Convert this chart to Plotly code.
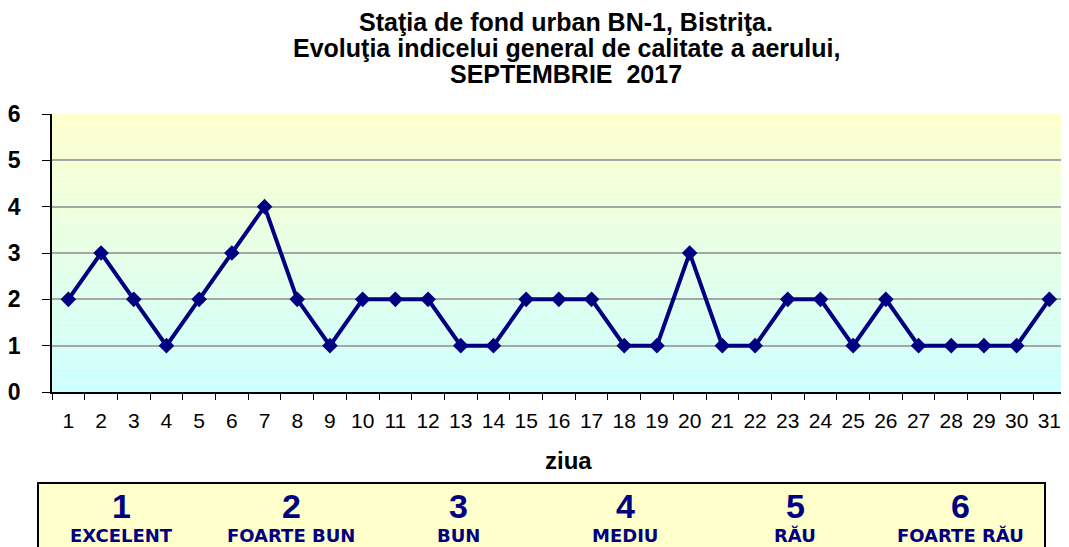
"""
Indicele general de calitate a aerului - BN-1 Bistriţa, septembrie 2017
"""

import plotly.graph_objects as go

# -------------------------
# Date
# -------------------------
zile = [str(d) for d in range(1, 32)]
indice = [2, 3, 2, 1, 2, 3, 4, 2, 1, 2, 2, 2, 1, 1, 2, 2, 2, 1, 1, 3,
          1, 1, 2, 2, 1, 2, 1, 1, 1, 1, 2]
y_ticks = [0, 1, 2, 3, 4, 5, 6]

clase_cifre = ["1", "2", "3", "4", "5", "6"]
clase_nume = ["EXCELENT", "FOARTE BUN", "BUN", "MEDIU", "RĂU", "FOARTE RĂU"]

titlu = [
    "Staţia de fond urban BN-1, Bistriţa.",
    "Evoluţia indicelui general de calitate a aerului,",
    "SEPTEMBRIE  2017",
]

# -------------------------
# Geometrie (pixeli, fata de coltul paginii; body are margine de 8px)
# -------------------------
OFF = 8
VIS = 1061                                # latimea vizibila a paginii
W, H = VIS - OFF, 547 - OFF
X0, X1, Y0, Y1 = 52, VIS, 114, 392        # zona graficului in pagina
L, R, T, B = X0 - OFF, 0, Y0 - OFF, 547 - Y1
PAS = 32.7                                # pixeli pe zi
X_END = -0.5 + (X1 - X0) / PAS


def px(x):
    return (x - X0) / (X1 - X0)


def py(y):
    return (Y1 - y) / (Y1 - Y0)


NAVY = "#000080"
ARIAL = "Arial, Liberation Sans, sans-serif"
LAT = "DejaVu Sans, Verdana, sans-serif"

fig = go.Figure()

fig.add_trace(go.Scatter(
    x=zile, y=indice, mode="lines+markers",
    line=dict(color=NAVY, width=4),
    marker=dict(symbol="diamond", size=12, color=NAVY),
    showlegend=False, hoverinfo="x+y",
))

# fundal in degrade galben -> cyan
shapes = []
n = 60
for i in range(n):
    t = (i + 0.5) / n
    r = int(round(204 + (255 - 204) * t))
    b = int(round(255 - (255 - 204) * t))
    shapes.append(dict(
        type="rect", xref="x domain", yref="y domain",
        x0=0, x1=1, y0=i / n, y1=(i + 1) / n,
        fillcolor=f"rgb({r},255,{b})", line=dict(width=0), layer="below",
    ))

# caseta cu clasele
shapes.append(dict(
    type="rect", xref="paper", yref="paper",
    x0=px(38), x1=px(1045), y0=py(575), y1=py(483),
    fillcolor="#FFFFCC", line=dict(color="black", width=2),
))

annotations = []
for i, linie in enumerate(titlu):
    annotations.append(dict(
        text=f"<b>{linie}</b>", xref="paper", yref="paper",
        x=px(566), y=py([22, 48, 74][i]), xanchor="center", yanchor="middle",
        showarrow=False, font=dict(family=ARIAL, size=25, color="black"),
    ))

annotations.append(dict(
    text="<b>ziua</b>", xref="paper", yref="paper",
    x=px(568), y=py(460), xanchor="center", yanchor="middle",
    showarrow=False, font=dict(family=ARIAL, size=24, color="black"),
))

cx = [121, 291, 458, 625, 795, 960]
for c, cifra, nume in zip(cx, clase_cifre, clase_nume):
    annotations.append(dict(
        text=f"<b>{cifra}</b>", xref="paper", yref="paper",
        x=px(c), y=py(506), xanchor="center", yanchor="middle",
        showarrow=False, font=dict(family=ARIAL, size=34, color=NAVY),
    ))
    annotations.append(dict(
        text=f"<b>{nume}</b>", xref="paper", yref="paper",
        x=px(c), y=py(535), xanchor="center", yanchor="middle",
        showarrow=False, font=dict(family=LAT, size=18, color=NAVY),
    ))

fig.update_layout(
    width=W, height=H,
    margin=dict(l=L, r=R, t=T, b=B),
    paper_bgcolor="white",
    plot_bgcolor="white",
    shapes=shapes,
    annotations=annotations,
    xaxis=dict(
        type="category", range=[-0.5, X_END],
        tickson="boundaries", ticks="outside", ticklen=6, tickcolor="black",
        showline=True, linecolor="black", linewidth=1.5,
        showgrid=False, zeroline=False,
        tickfont=dict(family=ARIAL, size=21, color="black"),
        ticklabelstandoff=9,
    ),
    yaxis=dict(
        range=[0, 6], tickvals=y_ticks,
        ticks="outside", ticklen=8, tickcolor="black",
        showline=True, linecolor="black", linewidth=1.5,
        showgrid=True, gridcolor="#A6A6A6", gridwidth=1.5,
        zeroline=False,
        tickfont=dict(family=ARIAL, size=23, color="black", weight="bold"),
        ticklabelstandoff=17,
    ),
)

fig.write_html(
    "out.html",
    post_script="document.body.style.overflow='hidden';",
)
